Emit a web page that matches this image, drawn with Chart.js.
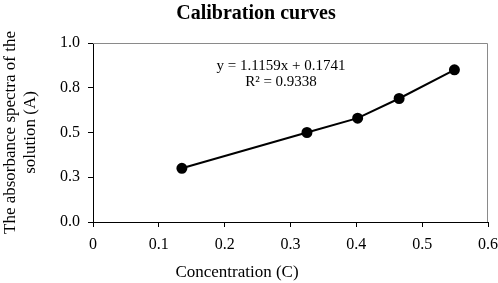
<!DOCTYPE html>
<html>
<head>
<meta charset="utf-8">
<script src="https://cdn.jsdelivr.net/npm/chart.js@4"></script>
<style>
  body { margin: 0; background: #fff; }
  #wrap { width: 498px; height: 283px; }
</style>
</head>
<body>
<div id="wrap"><canvas id="calChart"></canvas></div>
<script>
// Calibration data
const concentration = [0.135, 0.325, 0.402, 0.465, 0.549];
const absorbance = [0.30, 0.50, 0.58, 0.69, 0.85];
const xTicks = [0, 0.1, 0.2, 0.3, 0.4, 0.5, 0.6];
const yTicks = [0, 0.25, 0.5, 0.75, 1.0];
const chartTitle = 'Calibration curves';
const xTitle = 'Concentration (C)';
const yTitle = ['The absorbance spectra of the', 'solution (A)'];
const fitLines = ['y = 1.1159x + 0.1741', 'R\u00b2 = 0.9338'];

const serif = '"Liberation Serif", "Times New Roman", serif';

// Draws the title, x axis title, equation text and the box frame
const extrasPlugin = {
    id: 'extras',
    afterDraw(chart) {
        const ctx = chart.ctx;
        const area = chart.chartArea;
        ctx.save();
        // frame on top and right
        ctx.strokeStyle = '#8a8a8a';
        ctx.lineWidth = 1;
        ctx.beginPath();
        ctx.moveTo(area.left, area.top + 0.5);
        ctx.lineTo(area.right - 0.5, area.top + 0.5);
        ctx.lineTo(area.right - 0.5, area.bottom);
        ctx.stroke();

        ctx.fillStyle = '#000';
        ctx.textAlign = 'center';
        ctx.textBaseline = 'middle';
        ctx.font = 'bold 20px ' + serif;
        ctx.fillText(chartTitle, 256, 14);

        ctx.font = '17px ' + serif;
        ctx.fillText(xTitle, 237, 273);

        ctx.font = '15px ' + serif;
        ctx.fillText(fitLines[0], 281, 66);
        ctx.fillText(fitLines[1], 281, 82);
        ctx.restore();
    }
};

const ctx = document.getElementById('calChart').getContext('2d');
const calChart = new Chart(ctx, {
    type: 'scatter',
    data: {
        datasets: [{
            label: 'Calibration',
            data: concentration.map((c, i) => ({ x: c, y: absorbance[i] })),
            showLine: true,
            borderColor: '#000',
            backgroundColor: '#000',
            borderWidth: 2,
            pointRadius: 4.5,
            pointHoverRadius: 4.5
        }]
    },
    options: {
        responsive: true,
        maintainAspectRatio: false,
        animation: false,
        layout: { padding: { top: 43, right: 10, left: 0, bottom: 0 } },
        plugins: {
            legend: { display: false },
            title: { display: false },
            tooltip: { enabled: false }
        },
        scales: {
            x: {
                type: 'linear',
                min: 0,
                max: 0.6,
                afterBuildTicks: axis => { axis.ticks = xTicks.map(v => ({ value: v })); },
                afterFit: axis => {
                    axis.height = 61;
                    axis.paddingRight = 0;
                },
                ticks: {
                    color: '#000',
                    font: { family: serif, size: 16 },
                    padding: 8,
                    maxRotation: 0,
                    callback: v => v === 0 ? '0' : String(+v.toFixed(1))
                },
                grid: {
                    display: true,
                    drawOnChartArea: false,
                    drawTicks: true,
                    tickLength: 5,
                    color: '#000'
                },
                border: { display: true, color: '#000', width: 1 }
            },
            y: {
                type: 'linear',
                min: 0,
                max: 1,
                afterBuildTicks: axis => { axis.ticks = yTicks.map(v => ({ value: v })); },
                afterFit: axis => { axis.width = 93; },
                ticks: {
                    color: '#000',
                    font: { family: serif, size: 16 },
                    padding: 8,
                    callback: v => v.toFixed(1)
                },
                grid: {
                    display: true,
                    drawOnChartArea: false,
                    drawTicks: true,
                    tickLength: 5,
                    color: '#000'
                },
                border: { display: true, color: '#000', width: 1 },
                title: {
                    display: true,
                    text: yTitle,
                    color: '#000',
                    font: { family: serif, size: 17, lineHeight: 1.2 },
                    padding: { top: 0, bottom: 0 }
                }
            }
        }
    },
    plugins: [extrasPlugin]
});
</script>
</body>
</html>
